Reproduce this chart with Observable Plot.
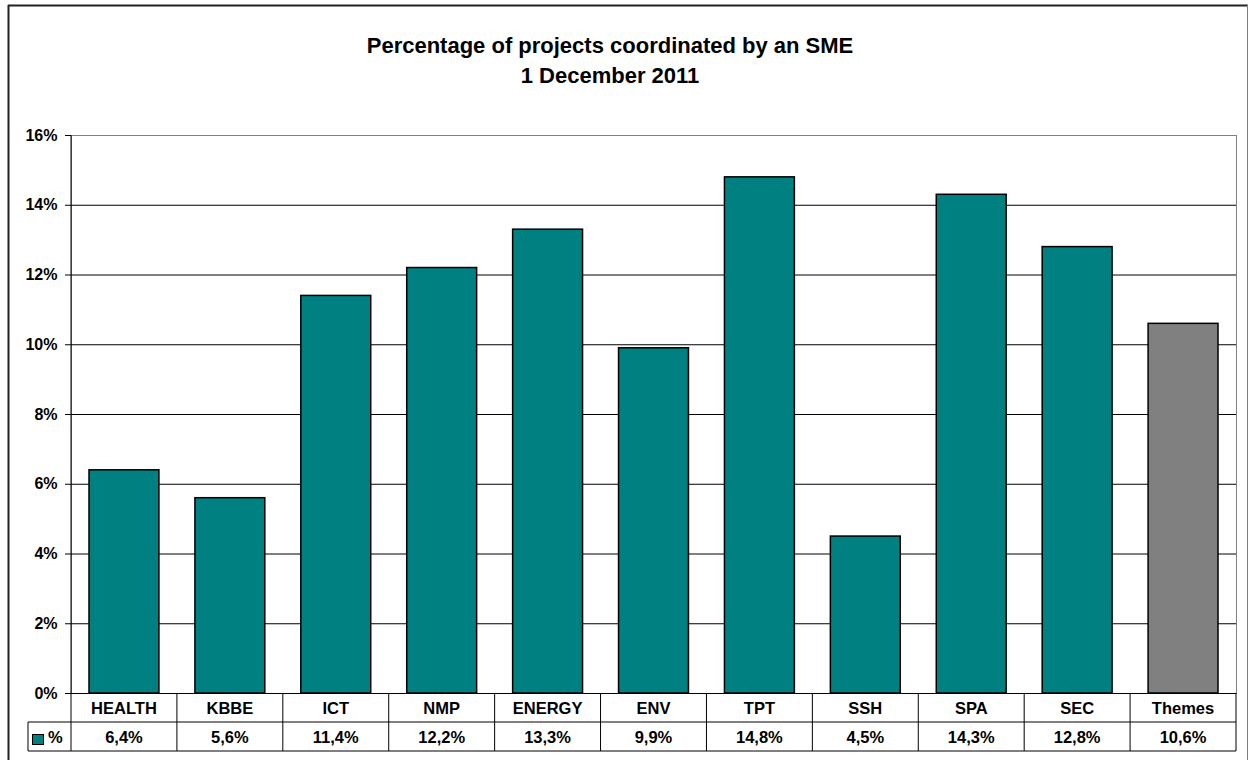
<!DOCTYPE html>
<html>
<head>
<meta charset="utf-8">
<script src="https://cdn.jsdelivr.net/npm/d3@7"></script>
<script src="https://cdn.jsdelivr.net/npm/@observablehq/plot@0.6"></script>
<style>
  body { margin: 0; background: #fff; }
  #chart { width: 1249px; height: 760px; overflow: hidden; }
</style>
</head>
<body>
<div id="chart"></div>
<script>
const titleLines = ["Percentage of projects coordinated by an SME", "1 December 2011"];
const categories = ["HEALTH", "KBBE", "ICT", "NMP", "ENERGY", "ENV", "TPT", "SSH", "SPA", "SEC", "Themes"];
const values = [6.4, 5.6, 11.4, 12.2, 13.3, 9.9, 14.8, 4.5, 14.3, 12.8, 10.6];
const valueLabels = ["6,4%", "5,6%", "11,4%", "12,2%", "13,3%", "9,9%", "14,8%", "4,5%", "14,3%", "12,8%", "10,6%"];
const yTicks = [0, 2, 4, 6, 8, 10, 12, 14, 16];
const seriesName = "%";
const totalCategory = "Themes";

const TEAL = "#008080", GREY = "#808080";
const FONT = "'Liberation Sans', Arial, Helvetica, sans-serif";

const data = categories.map((c, i) => ({cat: c, value: values[i], label: valueLabels[i]}));

const chart = Plot.plot({
  width: 1249,
  height: 760,
  marginTop: 135,
  marginBottom: 67,
  marginLeft: 71,
  marginRight: 13,
  style: {fontFamily: FONT, fontSize: "16px", fontWeight: "bold", color: "#000", background: "#fff", overflow: "visible"},
  x: {domain: categories, padding: 0, round: false, axis: null},
  y: {domain: [0, 16], ticks: yTicks, tickFormat: d => d + "%", tickSize: 6, tickPadding: 8, label: null},
  marks: [
    Plot.frame({stroke: GREY}),
    Plot.ruleY(yTicks.filter(t => t > 0 && t < 16), {stroke: "#000", strokeWidth: 1}),
    Plot.barY(data, {x: "cat", y: "value", fill: d => d.cat === totalCategory ? GREY : TEAL,
      stroke: "#000", strokeWidth: 1.5, insetLeft: 18, insetRight: 18}),
    Plot.ruleY([0], {stroke: "#000", strokeWidth: 1})
  ]
});

document.getElementById("chart").appendChild(chart);

// Data table, title and frame drawn from the plot's scales
const svg = d3.select(chart);
const xs = chart.scale("x"), ys = chart.scale("y");
const bw = xs.bandwidth ?? ((xs.range[1] - xs.range[0]) / categories.length);
const xLeft = xs.range[0], xRight = xs.range[1];
const yBase = ys.apply(0), yTop = ys.apply(16);
const rowH = 29;
const legendLeft = 28;
const g = svg.append("g").attr("fill", "none").attr("stroke", "#000").attr("stroke-width", 1);

// y axis line
g.append("line").attr("x1", xLeft).attr("x2", xLeft).attr("y1", yTop).attr("y2", yBase + 2 * rowH);
// horizontal table lines
g.append("line").attr("x1", legendLeft).attr("x2", xRight).attr("y1", yBase + rowH).attr("y2", yBase + rowH);
g.append("line").attr("x1", legendLeft).attr("x2", xRight).attr("y1", yBase + 2 * rowH).attr("y2", yBase + 2 * rowH);
g.append("line").attr("x1", legendLeft).attr("x2", legendLeft).attr("y1", yBase + rowH).attr("y2", yBase + 2 * rowH);
// vertical separators
categories.forEach(c => {
  const x = xs.apply(c) + bw;
  g.append("line").attr("x1", x).attr("x2", x).attr("y1", yBase).attr("y2", yBase + 2 * rowH);
});

const t = svg.append("g").attr("font-family", FONT).attr("font-weight", "bold").attr("font-size", 16.5).attr("fill", "#000");
data.forEach(d => {
  const cx = xs.apply(d.cat) + bw / 2;
  t.append("text").attr("x", cx).attr("y", yBase + 21).attr("text-anchor", "middle").text(d.cat);
  t.append("text").attr("x", cx).attr("y", yBase + rowH + 21).attr("text-anchor", "middle").text(d.label);
});
// legend key
svg.append("rect").attr("x", legendLeft + 4.5).attr("y", yBase + rowH + 12.5).attr("width", 11).attr("height", 10)
  .attr("fill", TEAL).attr("stroke", "#000").attr("stroke-width", 1);
t.append("text").attr("x", legendLeft + 20).attr("y", yBase + rowH + 21).attr("text-anchor", "start").text(seriesName);

// title
const tt = svg.append("g").attr("font-family", FONT).attr("font-weight", "bold").attr("font-size", 22)
  .attr("fill", "#000").attr("text-anchor", "middle");
titleLines.forEach((line, i) => tt.append("text").attr("x", 610).attr("y", 53 + i * 30).text(line));

// outer chart frame
const f = svg.append("g").attr("fill", "none");
f.append("line").attr("x1", 8).attr("x2", 1248).attr("y1", 5.5).attr("y2", 5.5).attr("stroke", "#222").attr("stroke-width", 2);
f.append("line").attr("x1", 8.5).attr("x2", 8.5).attr("y1", 5).attr("y2", 760).attr("stroke", "#222").attr("stroke-width", 2);
f.append("line").attr("x1", 1247.5).attr("x2", 1247.5).attr("y1", 5).attr("y2", 760).attr("stroke", GREY).attr("stroke-width", 1);
</script>
</body>
</html>
